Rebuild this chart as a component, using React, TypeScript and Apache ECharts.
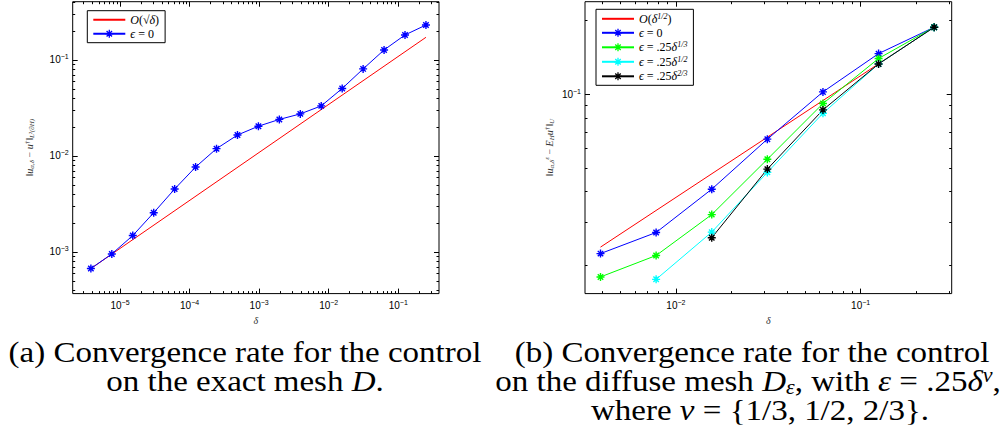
import React, { useEffect, useRef } from "react";
import * as echarts from "echarts";

// ---------- data ----------
// (a) exact mesh
const deltaA = [3.815e-6, 7.629e-6, 1.526e-5, 3.052e-5, 6.104e-5, 1.221e-4, 2.441e-4, 4.883e-4, 9.766e-4, 1.953e-3, 3.906e-3, 7.813e-3, 1.563e-2, 3.125e-2, 6.25e-2, 0.125, 0.25];
const errA = [6.71e-4, 9.53e-4, 1.48e-3, 2.56e-3, 4.52e-3, 7.66e-3, 1.19e-2, 1.65e-2, 2.04e-2, 2.4e-2, 2.74e-2, 3.32e-2, 5.04e-2, 8.06e-2, 0.127, 0.182, 0.231];
const rateADelta = [3.815e-6, 0.25];
const rateAVal = [6.71e-4, 0.172];

// (b) diffuse mesh
const deltaB = [3.906e-3, 7.813e-3, 1.563e-2, 3.125e-2, 6.25e-2, 0.125, 0.25];
const rateBDelta = [3.906e-3, 0.25];
const rateBVal = [0.0237, 0.188];
const eps0B = [0.0223, 0.0272, 0.0409, 0.0655, 0.1022, 0.1466, 0.188];
const eps13B = [0.0179, 0.0219, 0.0322, 0.0542, 0.0916, 0.14, 0.188];
const eps12B = [null, 0.0175, 0.0273, 0.0479, 0.0836, 0.133, 0.188];
const eps23B = [null, null, 0.0259, 0.0494, 0.0863, 0.133, 0.188];

// axis ranges
const xRangeA = [2.09e-6, 0.385];
const yRangeA = [3.68e-4, 0.404];
const xRangeB = [3.22e-3, 0.311];
const yRangeB = [0.0153, 0.239];
const xLabelsA = [1e-5, 1e-4, 1e-3, 1e-2, 1e-1];
const yLabelsA = [1e-3, 1e-2, 1e-1];
const xLabelsB = [1e-2, 1e-1];
const yLabelsB = [1e-1];

// ---------- helpers ----------
const SANS = "Liberation Sans";
const SERIF = "Liberation Serif";
const STAR = "path://M5,0L5,10M0,5L10,5M1.6,1.6L8.4,8.4M1.6,8.4L8.4,1.6";
const TOP_H = 330; // height of the plots' canvas; captions go below

function minorTicks(range: number[]) {
  const out: number[] = [];
  const e0 = Math.floor(Math.log10(range[0]));
  const e1 = Math.ceil(Math.log10(range[1]));
  for (let e = e0; e <= e1; e++) {
    for (let m = 2; m <= 9; m++) {
      const v = parseFloat((m * Math.pow(10, e)).toPrecision(6));
      if (v > range[0] && v < range[1]) out.push(v);
    }
  }
  return out;
}
function majorTicks(range: number[]) {
  const out: number[] = [];
  for (let e = Math.floor(Math.log10(range[0])); e <= Math.ceil(Math.log10(range[1])); e++) {
    const v = parseFloat(Math.pow(10, e).toPrecision(6));
    if (v > range[0] && v < range[1]) out.push(v);
  }
  return out;
}

const tickRich = {
  b: { fontFamily: SANS, fontSize: 10, color: "#000" },
  s: { fontFamily: SANS, fontSize: 7, color: "#000", verticalAlign: "top", padding: [0, 0, 6, 0] },
};
function powLabel(v: number) {
  const e = Math.round(Math.log10(v));
  return `{b|10}{s|${e < 0 ? "\u2212" + -e : e}}`;
}

function axis(dim: "x" | "y", gridIndex: number, position: string, range: number[], ticks: number[], len: number, labels: number[] | null, extra: any = {}) {
  return {
    type: "log",
    logBase: 10,
    gridIndex,
    position,
    min: range[0],
    max: range[1],
    axisLine: { show: false },
    axisTick: { show: true, inside: true, length: len, lineStyle: { color: "#000", width: 1 }, customValues: ticks },
    axisLabel: labels
      ? { show: true, customValues: labels, formatter: powLabel, rich: tickRich, margin: dim === "x" ? 5 : 4, showMinLabel: true, showMaxLabel: true }
      : { show: false },
    splitLine: { show: false },
    minorTick: { show: false },
    minorSplitLine: { show: false },
    ...extra,
  };
}

function series(name: string, xIdx: number, yIdx: number, xs: number[], ys: (number | null)[], color: string, symbol: boolean) {
  const data = xs.map((x, i) => [x, ys[i]]).filter((p) => p[1] != null);
  return {
    name,
    type: "line",
    xAxisIndex: xIdx,
    yAxisIndex: yIdx,
    data,
    color,
    symbol: symbol ? STAR : "none",
    symbolSize: 8,
    showSymbol: symbol,
    lineStyle: { color, width: 1 },
    itemStyle: { color, borderColor: color, borderWidth: 1.4 },
    emphasis: { disabled: true },
  };
}

const legRich = {
  i: { fontFamily: SERIF, fontStyle: "italic", fontSize: 12, color: "#000" },
  t: { fontFamily: SERIF, fontSize: 12, color: "#000" },
  sp: { fontFamily: SERIF, fontStyle: "italic", fontSize: 8, color: "#000", verticalAlign: "top", padding: [0, 0, 5, 0] },
};
const legendNames: Record<string, string> = {
  rateA: "{i|O}{t|(\u221A}{i|\u03B4}{t|)}",
  eps0A: "{i|\u03F5}{t| = 0}",
  rateB: "{i|O}{t|(}{i|\u03B4}{sp|1/2}{t|)}",
  eps0B: "{i|\u03F5}{t| = 0}",
  eps13B: "{i|\u03F5}{t| = .25}{i|\u03B4}{sp|1/3}",
  eps12B: "{i|\u03F5}{t| = .25}{i|\u03B4}{sp|1/2}",
  eps23B: "{i|\u03F5}{t| = .25}{i|\u03B4}{sp|2/3}",
};

const nameRich = {
  n: { fontFamily: SERIF, fontSize: 10, color: "#333" },
  i: { fontFamily: SERIF, fontStyle: "italic", fontSize: 10, color: "#333" },
  sb: { fontFamily: SERIF, fontStyle: "italic", fontSize: 7, color: "#333", verticalAlign: "bottom", padding: [5, 0, 0, 0] },
  sp: { fontFamily: SERIF, fontStyle: "italic", fontSize: 7, color: "#333", verticalAlign: "top", padding: [0, 0, 5, 0] },
};

const CAP = 30;
const capRich = {
  r: { fontFamily: SERIF, fontSize: CAP },
  i: { fontFamily: SERIF, fontStyle: "italic", fontSize: CAP },
  sb: { fontFamily: SERIF, fontStyle: "italic", fontSize: 20, verticalAlign: "bottom", padding: [12, 0, 0, 0] },
  sp: { fontFamily: SERIF, fontStyle: "italic", fontSize: 20, verticalAlign: "top", padding: [0, 0, 10, 0] },
};
function caption(x: number, y: number, text: string, sx: number) {
  return {
    type: "text",
    x,
    y: y - TOP_H,
    scaleX: sx,
    silent: true,
    style: { x: 0, y: 0, text, rich: capRich, fontFamily: SERIF, fontSize: CAP, align: "center", verticalAlign: "middle", fill: "#000" },
  };
}

export default function App() {
  const ref = useRef<HTMLDivElement>(null);
  const capRef = useRef<HTMLDivElement>(null);
  useEffect(() => {
    if (!ref.current || !capRef.current) return;
    const chart = echarts.init(ref.current, null, { renderer: "svg" });
    const capChart = echarts.init(capRef.current, null, { renderer: "svg" });
    const bottom = TOP_H - 294;
    const gridA = { left: 72.7, top: 1.7, right: 564, bottom };
    const gridB = { left: 585, top: 1.7, right: 51.3, bottom };
    const g = (o: any) => ({ ...o, show: true, borderColor: "#000", borderWidth: 1, backgroundColor: "transparent", containLabel: false });

    const xAxes = [
      axis("x", 0, "bottom", xRangeA, majorTicks(xRangeA), 5, xLabelsA, {
        name: "{i|\u03B4}", nameLocation: "middle", nameGap: 21, nameTextStyle: { rich: nameRich },
      }),
      axis("x", 0, "bottom", xRangeA, minorTicks(xRangeA), 2.5, null),
      axis("x", 0, "top", xRangeA, majorTicks(xRangeA), 5, null),
      axis("x", 0, "top", xRangeA, minorTicks(xRangeA), 2.5, null),
      axis("x", 1, "bottom", xRangeB, majorTicks(xRangeB), 5, xLabelsB, {
        name: "{i|\u03B4}", nameLocation: "middle", nameGap: 21, nameTextStyle: { rich: nameRich },
      }),
      axis("x", 1, "bottom", xRangeB, minorTicks(xRangeB), 2.5, null),
      axis("x", 1, "top", xRangeB, majorTicks(xRangeB), 5, null),
      axis("x", 1, "top", xRangeB, minorTicks(xRangeB), 2.5, null),
    ];
    const yAxes = [
      axis("y", 0, "left", yRangeA, majorTicks(yRangeA), 5, yLabelsA, {
        name: "{n|\u2016}{i|u}{sb|\u03B1,\u03B4}{n| \u2212 }{i|u}{sp|\u2020}{n|\u2016}{sb|L\u00B2(\u2202H)}",
        nameLocation: "middle", nameGap: 37, nameTextStyle: { rich: nameRich },
      }),
      axis("y", 0, "left", yRangeA, minorTicks(yRangeA), 2.5, null),
      axis("y", 0, "right", yRangeA, majorTicks(yRangeA), 5, null),
      axis("y", 0, "right", yRangeA, minorTicks(yRangeA), 2.5, null),
      axis("y", 1, "left", yRangeB, majorTicks(yRangeB), 5, yLabelsB, {
        name: "{n|\u2016}{i|u}{sb|\u03B1,\u03B4}{sp|\u03B5}{n| \u2212 }{i|E}{sb|H}{i|u}{sp|\u2020}{n|\u2016}{sb|U}",
        nameLocation: "middle", nameGap: 30, nameTextStyle: { rich: nameRich },
      }),
      axis("y", 1, "left", yRangeB, minorTicks(yRangeB), 2.5, null),
      axis("y", 1, "right", yRangeB, majorTicks(yRangeB), 5, null),
      axis("y", 1, "right", yRangeB, minorTicks(yRangeB), 2.5, null),
    ];

    const legendBase = {
      orient: "vertical",
      borderColor: "#000",
      borderWidth: 1,
      backgroundColor: "#fff",
      itemWidth: 32,
      itemHeight: 10,
      itemGap: 2,
      itemStyle: { borderWidth: 1.3 },
      textStyle: { rich: legRich, fontFamily: SERIF, fontSize: 12, color: "#000" },
      formatter: (n: string) => legendNames[n] || n,
      selectedMode: false,
    };
    const noSym = { opacity: 0 };

    chart.setOption({
      animation: false,
      backgroundColor: "#fff",
      grid: [g(gridA), g(gridB)],
      xAxis: xAxes,
      yAxis: yAxes,
      legend: [
        { ...legendBase, data: [{ name: "rateA", itemStyle: noSym }, "eps0A"], left: 87.3, top: 10.7, padding: [3, 6, 3, 5] },
        { ...legendBase, data: [{ name: "rateB", itemStyle: noSym }, "eps0B", "eps13B", "eps12B", "eps23B"], left: 596, top: 9.3, padding: [3, 6, 3, 5] },
      ],
      series: [
        series("rateA", 0, 0, rateADelta, rateAVal, "#ff0000", false),
        series("eps0A", 0, 0, deltaA, errA, "#0000ff", true),
        series("rateB", 4, 4, rateBDelta, rateBVal, "#ff0000", false),
        series("eps0B", 4, 4, deltaB, eps0B, "#0000ff", true),
        series("eps13B", 4, 4, deltaB, eps13B, "#00ff00", true),
        series("eps12B", 4, 4, deltaB, eps12B, "#00ffff", true),
        series("eps23B", 4, 4, deltaB, eps23B, "#000000", true),
      ],
    });

    capChart.setOption({
      animation: false,
      graphic: [
        caption(245, 352, "(a) Convergence rate for the control", 1.1),
        caption(245, 381, "{r|on the exact mesh }{i|D}{r|.}", 1.1),
        caption(752, 352, "(b) Convergence rate for the control", 1.1),
        caption(748, 381, "{r|on the diffuse mesh }{i|D}{sb|\u03B5}{r|, with }{i|\u03B5}{r| = .25}{i|\u03B4}{sp|\u03BD}{r|,}", 1.1),
        caption(760, 410, "{r|where }{i|\u03BD}{r| = }{1/3, 1/2, 2/3}.", 1.1),
      ],
    });
    return () => {
      chart.dispose();
      capChart.dispose();
    };
  }, []);
  return (
    <div style={{ position: "fixed", left: 0, top: 0, width: 1003, height: 439, background: "#fff" }}>
      <div ref={ref} style={{ position: "absolute", left: 0, top: 0, width: 1003, height: TOP_H }} />
      <div ref={capRef} style={{ position: "absolute", left: 0, top: TOP_H, width: 1003, height: 439 - TOP_H }} />
    </div>
  );
}
